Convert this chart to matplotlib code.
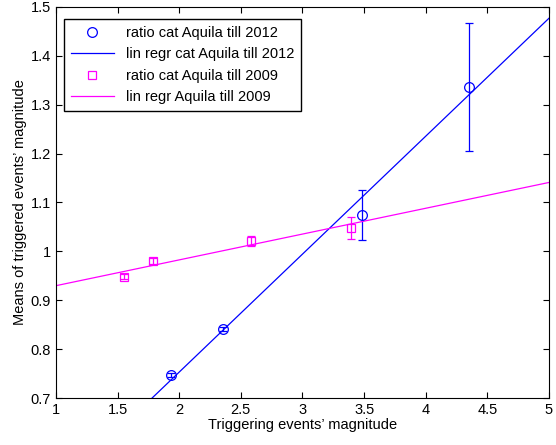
import numpy as np
import matplotlib
matplotlib.use("Agg")
import matplotlib.pyplot as plt
from matplotlib.ticker import FormatStrFormatter, MultipleLocator

plt.rcParams['font.family'] = ['Liberation Sans', 'DejaVu Sans']

# catalogue till 2012
mag_2012 = [1.93, 2.355, 3.48, 4.35]
mean_2012 = [0.747, 0.841, 1.074, 1.337]
err_2012 = [0.004, 0.004, 0.051, 0.131]
slope_2012, icpt_2012 = 0.2413, 0.2705

# catalogue till 2009
mag_2009 = [1.552, 1.787, 2.582, 3.393]
mean_2009 = [0.948, 0.980, 1.021, 1.048]
err_2009 = [0.005, 0.006, 0.010, 0.023]
slope_2009, icpt_2009 = 0.0528, 0.877

fs = 10.5

fig = plt.figure(figsize=(5.56, 4.45), dpi=100)
ax = fig.add_axes([0.1007, 0.1056, 0.8867, 0.8787])

xx = np.array([1.0, 5.0])
e1 = ax.errorbar(mag_2012, mean_2012, yerr=err_2012, fmt='o', color='#0000ff',
                 mfc='none', ms=7, mew=0.9, elinewidth=0.9, capsize=3)
l1, = ax.plot(xx, icpt_2012 + slope_2012 * xx, color='#0000ff', lw=0.9)
e2 = ax.errorbar(mag_2009, mean_2009, yerr=err_2009, fmt='s', color='#ff00ff',
                 mfc='none', ms=6, mew=0.9, elinewidth=0.9, capsize=3)
l2, = ax.plot(xx, icpt_2009 + slope_2009 * xx, color='#ff00ff', lw=0.9)

ax.set_xlim(1, 5)
ax.set_ylim(0.7, 1.5)
ax.xaxis.set_major_locator(MultipleLocator(0.5))
ax.yaxis.set_major_locator(MultipleLocator(0.1))
ax.xaxis.set_major_formatter(FormatStrFormatter('%g'))
ax.yaxis.set_major_formatter(FormatStrFormatter('%g'))
ax.tick_params(direction='in', top=True, right=True, labelsize=fs, length=4)
for s in ax.spines.values():
    s.set_linewidth(0.8)
ax.set_xlabel("Triggering events\u2019 magnitude", fontsize=fs, labelpad=1)
ax.set_ylabel("Means of triggered events\u2019 magnitude", fontsize=fs, labelpad=3)

ax.legend([e1[0], l1, e2[0], l2],
          ['ratio cat Aquila till 2012', 'lin regr cat Aquila till 2012',
           'ratio cat Aquila till 2009', 'lin regr Aquila till 2009'],
          loc='upper left', bbox_to_anchor=(0.0162, 0.969), borderaxespad=0,
          fontsize=fs, fancybox=False, framealpha=1, edgecolor='black',
          handlelength=3.0, labelspacing=0.52, borderpad=0.45)

fig.savefig('out.png', dpi=100)
